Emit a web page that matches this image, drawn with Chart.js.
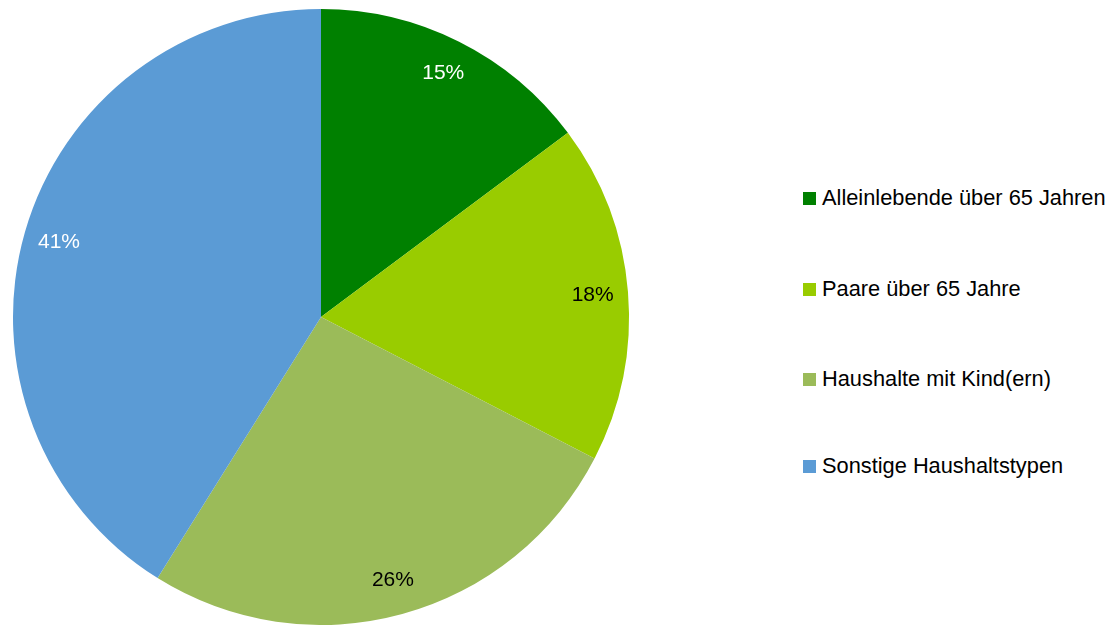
<!DOCTYPE html>
<html>
<head>
<meta charset="utf-8">
<script src="https://cdn.jsdelivr.net/npm/chart.js"></script>
<style>
  html,body{margin:0;padding:0;background:#fff;width:1112px;height:625px;overflow:hidden;}
  #wrap{position:absolute;left:0;top:0;width:650px;height:625px;}
  #legend{position:absolute;left:803px;top:0;font-family:"Liberation Sans",Arial,sans-serif;font-size:21.8px;color:#000;}
  .item{position:absolute;left:0;white-space:nowrap;display:flex;align-items:center;height:26px;}
  .box{width:13px;height:13px;margin-right:6px;flex:none;}
</style>
</head>
<body>
<div id="wrap"><canvas id="pie"></canvas></div>
<div id="legend"></div>
<script>
// ---- data ----
const LABELS = ['Alleinlebende über 65 Jahren','Paare über 65 Jahre','Haushalte mit Kind(ern)','Sonstige Haushaltstypen'];
const VALUES = [14.8, 17.8, 26.3, 41.1];
const PCT_TEXT = ['15%','18%','26%','41%'];
const COLORS = ['#008000','#99cc00','#9bbb59','#5b9bd5'];
const LABEL_COLORS = ['#fff','#000','#000','#fff'];

// ---- legend (html) ----
const legend = document.getElementById('legend');
const legendTops = [185, 276, 366, 453];
LABELS.forEach((l,i)=>{
  const d = document.createElement('div');
  d.className = 'item';
  d.style.top = legendTops[i]+'px';
  d.innerHTML = `<span class="box" style="background:${COLORS[i]}"></span><span>${l}</span>`;
  legend.appendChild(d);
});

// ---- percent labels on slices ----
const pctLabels = {
  id:'pctLabels',
  afterDatasetsDraw(chart){
    const ctx = chart.ctx;
    const meta = chart.getDatasetMeta(0);
    ctx.save();
    ctx.font = '21px "Liberation Sans", Arial, sans-serif';
    ctx.textAlign = 'center';
    ctx.textBaseline = 'middle';
    meta.data.forEach((arc,i)=>{
      const p = arc.getProps(['x','y','startAngle','endAngle','outerRadius'], true);
      const a = (p.startAngle+p.endAngle)/2;
      const r = p.outerRadius*0.885;
      ctx.fillStyle = LABEL_COLORS[i];
      ctx.fillText(PCT_TEXT[i], p.x+Math.cos(a)*r, p.y+Math.sin(a)*r);
    });
    ctx.restore();
  }
};

new Chart(document.getElementById('pie'), {
  type:'pie',
  data:{ labels:LABELS, datasets:[{ data:VALUES, backgroundColor:COLORS, borderWidth:0 }] },
  options:{
    responsive:true, maintainAspectRatio:false, animation:false,
    layout:{ padding:{ left:13, top:9, right:21, bottom:0 } },
    plugins:{ legend:{ display:false }, tooltip:{ enabled:false } }
  },
  plugins:[pctLabels]
});
</script>
</body>
</html>
